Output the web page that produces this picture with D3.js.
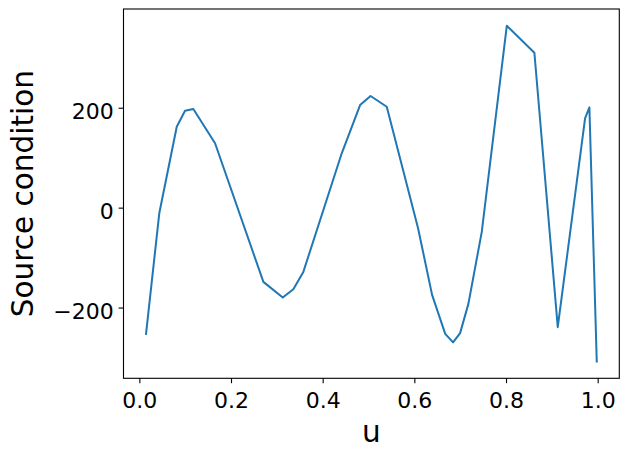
<!DOCTYPE html>
<html>
<head>
<meta charset="utf-8">
<script src="https://cdn.jsdelivr.net/npm/d3@7"></script>
<style>
  body { margin: 0; background: #fff; }
  text { font-family: "DejaVu Sans", sans-serif; fill: #000; }
</style>
</head>
<body>
<div class="chart"></div>
<script>
// u positions and source condition values
const uValues = [0.0146, 0.0436, 0.0816, 0.0997, 0.1178, 0.1652, 0.2706, 0.3129, 0.336, 0.3578,
    0.4416, 0.4816, 0.5045, 0.5398, 0.608, 0.6387, 0.6674, 0.6845, 0.6998, 0.7179,
    0.7471, 0.8017, 0.8619, 0.9129, 0.9725, 0.9819, 0.998];
const sourceValues = [-252.6, -10.6, 162, 194, 197.4, 128.8, -148.6, -180, -163.2, -128.6,
    108.8, 205.4, 223.4, 202, -40.6, -174.6, -252.6, -269.6, -251.2, -192.6,
    -48.6, 364, 310, -239.2, 178.8, 200.8, -308];
const xTicks = [0, 0.2, 0.4, 0.6, 0.8, 1.0];
const yTicks = [-200, 0, 200];

const data = uValues.map((u, i) => ({u: u, v: sourceValues[i]}));

const W = 629, H = 457;
const margin = ({top: 9, bottom: 457 - 378.3, left: 123.5, right: 629 - 619.3});
const width = W - margin.left - margin.right;
const height = H - margin.top - margin.bottom;

const svg = d3.select('.chart')
    .append('svg')
    .attr('width', W)
    .attr('height', H);

const g = svg.append('g')
    .attr('transform', `translate(${margin.left},${margin.top})`);

// matplotlib style 5% margins around the data
const [x0, x1] = d3.extent(data, d => d.u);
const [y0, y1] = d3.extent(data, d => d.v);
const px = (x1 - x0) * 0.05, py = (y1 - y0) * 0.05;

const xScale = d3.scaleLinear()
    .domain([x0 - px, x1 + px])
    .range([0, width]);

const yScale = d3.scaleLinear()
    .domain([y0 - py, y1 + py])
    .range([height, 0]);

const fmtY = d => (d < 0 ? '\u2212' : '') + Math.abs(d);

const xAxis = d3.axisBottom(xScale)
    .tickValues(xTicks)
    .tickFormat(d3.format('.1f'))
    .tickSize(4.9)
    .tickPadding(4.9);

const yAxis = d3.axisLeft(yScale)
    .tickValues(yTicks)
    .tickFormat(fmtY)
    .tickSize(4.9)
    .tickPadding(4.9);

const xg = g.append('g')
    .attr('class', 'axis x-axis')
    .attr('transform', `translate(0,${height})`)
    .call(xAxis);

const yg = g.append('g')
    .attr('class', 'axis y-axis')
    .call(yAxis);

[xg, yg].forEach(a => {
    a.select('.domain').remove();
    a.selectAll('.tick line').attr('stroke', '#000').attr('stroke-width', 1.1);
    a.selectAll('.tick text').attr('font-size', '22px').attr('font-family', '"DejaVu Sans", sans-serif');
});
xg.selectAll('.tick text').attr('dy', null).attr('y', 30);
yg.selectAll('.tick text').attr('dy', null).attr('y', 10.6);

const line = d3.line()
    .x(d => xScale(d.u))
    .y(d => yScale(d.v));

g.append('path')
    .datum(data)
    .attr('d', line)
    .attr('fill', 'none')
    .attr('stroke', '#1f77b4')
    .attr('stroke-width', 2)
    .attr('stroke-linejoin', 'round')
    .attr('stroke-linecap', 'square');

// frame
g.append('rect')
    .attr('width', width)
    .attr('height', height)
    .attr('fill', 'none')
    .attr('stroke', '#000')
    .attr('stroke-width', 1.1);

svg.append('text')
    .attr('x', margin.left + width / 2)
    .attr('y', 442)
    .attr('text-anchor', 'middle')
    .attr('font-size', '29.5px')
    .text('u');

svg.append('text')
    .attr('transform', `translate(32.5,${margin.top + height / 2}) rotate(-90)`)
    .attr('text-anchor', 'middle')
    .attr('font-size', '29.5px')
    .text('Source condition');
</script>
</body>
</html>
